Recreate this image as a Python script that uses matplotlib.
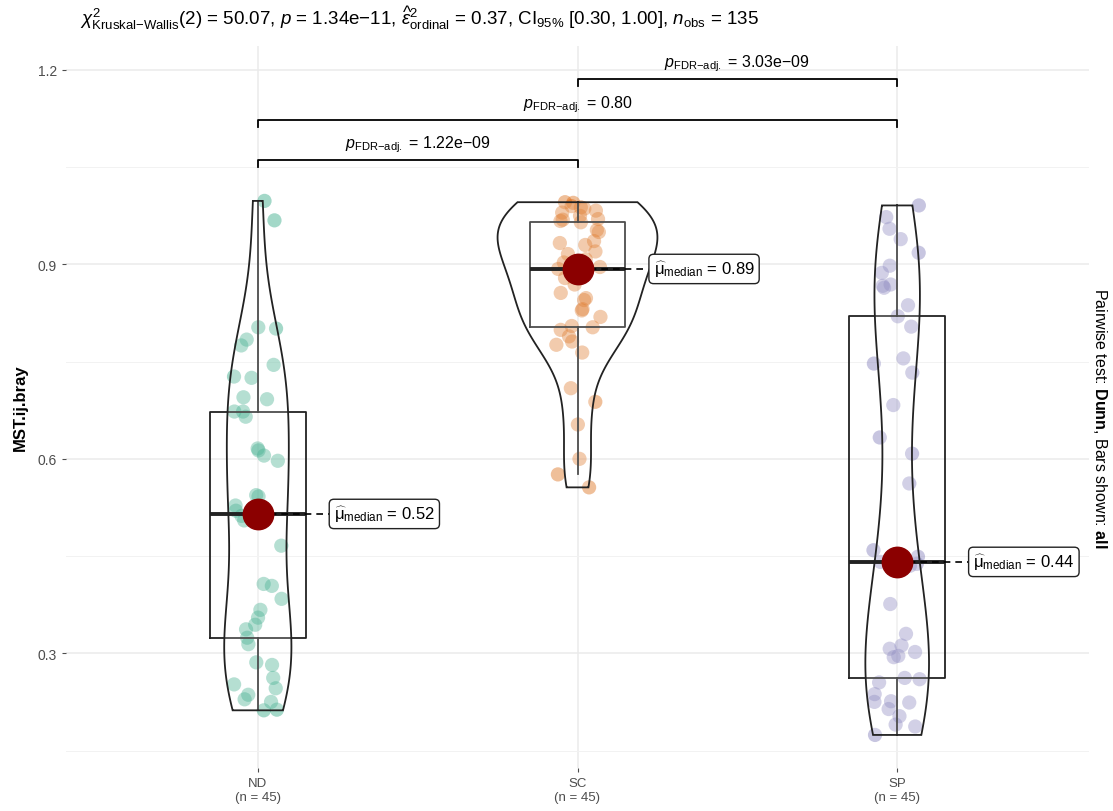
import numpy as np
import matplotlib.pyplot as plt

plt.rcParams['font.family'] = ['Liberation Sans', 'DejaVu Sans']
plt.rcParams['mathtext.fontset'] = 'custom'
plt.rcParams['mathtext.rm'] = 'Liberation Sans'
plt.rcParams['mathtext.it'] = 'Liberation Sans:italic'
plt.rcParams['mathtext.bf'] = 'Liberation Sans:bold'
plt.rcParams['mathtext.sf'] = 'Liberation Sans'

# data
groups = ["ND", "SC", "SP"]
n_labels = ["(n = 45)", "(n = 45)", "(n = 45)"]
colors = ["#1B9E77", "#D95F02", "#7570B3"]

nd = [0.212, 0.213, 0.225, 0.229, 0.236, 0.246, 0.252, 0.262, 0.282, 0.286,
      0.314, 0.324, 0.337, 0.344, 0.355, 0.367, 0.384, 0.404, 0.407, 0.466,
      0.505, 0.512, 0.515, 0.520, 0.528, 0.542, 0.544, 0.597, 0.605, 0.613,
      0.616, 0.665, 0.673, 0.673, 0.692, 0.695, 0.725, 0.727, 0.745, 0.775,
      0.784, 0.801, 0.803, 0.968, 0.998]
sc = [0.556, 0.576, 0.600, 0.653, 0.688, 0.709, 0.764, 0.776, 0.781, 0.789,
      0.799, 0.803, 0.805, 0.819, 0.829, 0.831, 0.845, 0.848, 0.856, 0.869,
      0.879, 0.882, 0.893, 0.896, 0.903, 0.908, 0.916, 0.920, 0.930, 0.933,
      0.936, 0.950, 0.953, 0.965, 0.967, 0.969, 0.970, 0.975, 0.980, 0.983,
      0.986, 0.988, 0.990, 0.995, 0.996]
sp = [0.174, 0.187, 0.190, 0.203, 0.214, 0.224, 0.225, 0.226, 0.237, 0.255,
      0.260, 0.262, 0.294, 0.296, 0.302, 0.307, 0.312, 0.330, 0.376, 0.430,
      0.435, 0.438, 0.441, 0.449, 0.459, 0.562, 0.608, 0.633, 0.683, 0.733,
      0.747, 0.755, 0.804, 0.820, 0.837, 0.864, 0.867, 0.869, 0.887, 0.898,
      0.918, 0.939, 0.955, 0.973, 0.991]
median_txt = ["0.52", "0.89", "0.44"]

pairs = [(1, 2), (1, 3), (2, 3)]
pair_y = [1.061, 1.123, 1.186]
pair_p = ["1.22e\u221209", "0.80", "3.03e\u221209"]

data = [nd, sc, sp]
pos = [1, 2, 3]


def kde(vals, grid):  # gaussian kde with bw.nrd0 like R
    v = np.asarray(vals)
    n = len(v)
    q75, q25 = np.percentile(v, [75, 25])
    bw = 0.9 * min(v.std(ddof=1), (q75 - q25) / 1.34) * n ** -0.2
    z = (grid[:, None] - v[None, :]) / bw
    return np.exp(-0.5 * z ** 2).sum(1) / (n * bw * np.sqrt(2 * np.pi))


fig = plt.figure(figsize=(11.13, 8.12), dpi=100)
ax = fig.add_axes([66 / 1113, 43 / 812, 1023 / 1113, 722 / 812])

rng = np.random.default_rng(7)
for i, vals in enumerate(data):
    jit = rng.uniform(-0.075, 0.075, len(vals))
    ax.scatter(pos[i] + jit, vals, s=105, color=colors[i], alpha=0.4,
               edgecolors='none', zorder=2)

ax.boxplot(data, positions=pos, widths=0.3, showfliers=False, showcaps=False,
           boxprops=dict(color='#222222', lw=1.3),
           whiskerprops=dict(color='#222222', lw=1.3),
           medianprops=dict(color='#222222', lw=2.8), zorder=3)

# violins, scale = "area", width 0.5
grids = [np.linspace(min(v), max(v), 512) for v in data]
dens = [kde(v, g) for v, g in zip(data, grids)]
dmax = max(d.max() for d in dens)
for i in range(3):
    hw = 0.25 * dens[i] / dmax
    xs = np.concatenate([pos[i] - hw, (pos[i] + hw)[::-1]])
    ys = np.concatenate([grids[i], grids[i][::-1]])
    ax.fill(xs, ys, facecolor=(1, 1, 1, 0.2), edgecolor='#222222', lw=1.3, zorder=3)

# medians + labels
for i, vals in enumerate(data):
    m = np.median(vals)
    ax.plot([pos[i], pos[i] + 0.222], [m, m], color='black', lw=1.2,
            ls=(0, (4, 3)), zorder=4)
    ax.scatter([pos[i]], [m], s=480, color='darkred', zorder=5)
    ax.text(pos[i] + 0.238, m, r"$\widehat{\mathrm{μ}}_{\mathrm{median}}$ = " + median_txt[i],
            fontsize=12, va='center', ha='left', zorder=6,
            bbox=dict(boxstyle='round,pad=0.28', fc='white', ec='#222222', lw=1))

# pairwise brackets
for (a, b), y, p in zip(pairs, pair_y, pair_p):
    ax.plot([a, a, b, b], [y - 0.011, y, y, y - 0.011], color='black', lw=1.3)
    ax.text((a + b) / 2, y + 0.009, r"$\mathit{p}_{\mathrm{FDR{-}adj.}}$ = " + p,
            fontsize=11.5, ha='center', va='bottom')

ax.set_xlim(0.4, 3.6)
ax.set_ylim(0.123, 1.237)
ax.set_xticks(pos)
ax.set_xticklabels([g + "\n" + n for g, n in zip(groups, n_labels)],
                   fontsize=9.5, color='#4D4D4D', linespacing=1.2)
ax.set_yticks([0.3, 0.6, 0.9, 1.2])
ax.set_yticklabels(["0.3", "0.6", "0.9", "1.2"], fontsize=10, color='#4D4D4D')
ax.set_yticks([0.15, 0.45, 0.75, 1.05], minor=True)
ax.tick_params(which='major', length=3, color='#4D4D4D', width=0.8)
ax.tick_params(which='minor', length=0)
ax.grid(which='major', color='#EBEBEB', lw=1.1, zorder=0)
ax.grid(which='minor', axis='y', color='#F2F2F2', lw=0.7, zorder=0)
ax.set_axisbelow(True)
for s in ax.spines.values():
    s.set_visible(False)

ax.set_ylabel("MST.ij.bray", fontsize=12, fontweight='bold')
ax.yaxis.set_label_coords(-0.037, 0.5)

subtitle = (r"$\chi^{2}_{\mathrm{Kruskal{-}Wallis}}$(2) = 50.07, $\mathit{p}$ = 1.34e" + "\u2212" + "11, "
            r"$\widehat{\epsilon}^{2}_{\mathrm{ordinal}}$ = 0.37, CI$_{95\%}$ [0.30, 1.00], "
            r"$\mathit{n}_{\mathrm{obs}}$ = 135")
fig.text(80 / 1113, 1 - 18 / 812, subtitle, fontsize=13.5, ha='left', va='center')

fig.text(1100 / 1113, 1 - 418 / 812,
         r"Pairwise test: $\mathbf{Dunn}$, Bars shown: $\mathbf{all}$",
         fontsize=11.5, rotation=270, ha='center', va='center')

plt.savefig("out.png", dpi=100)
